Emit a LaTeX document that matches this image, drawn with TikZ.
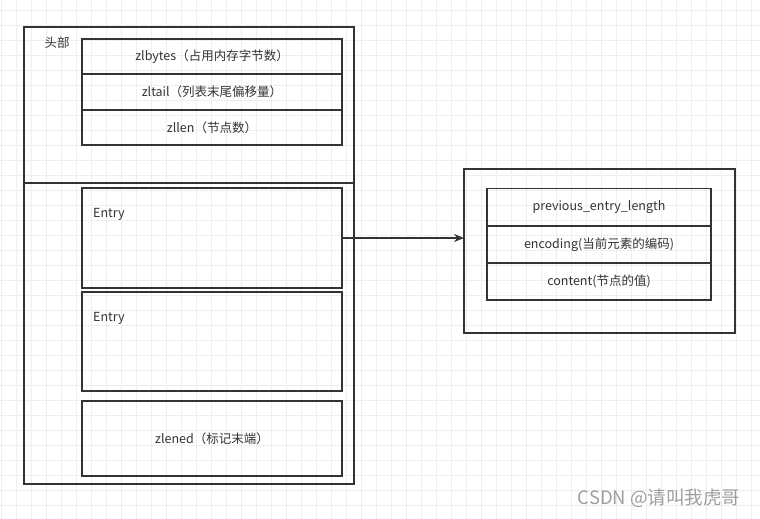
\documentclass[tikz,border=0pt]{standalone}
\usepackage{fontspec}
\usepackage{tikz}
\usetikzlibrary{arrows.meta}
\newfontfamily\cjk{Noto Sans CJK SC}
\definecolor{ink}{HTML}{333333}
\definecolor{gridgray}{HTML}{EEEEEE}
\tikzset{
  field/.style={draw=ink, line width=1.6pt, minimum width=260pt, inner sep=0pt, outer sep=0pt,
    text=ink, font=\cjk\fontsize{12.5}{15}\selectfont},
  frame/.style={draw=ink, line width=1.6pt, inner sep=0pt, outer sep=0pt},
  plain/.style={text=ink, inner sep=0pt, font=\cjk\fontsize{12.5}{15}\selectfont},
}
\begin{document}
\begin{tikzpicture}[x=1pt, y=-1pt]
	\useasboundingbox (0,0) rectangle (760,519);
	% grid
	\foreach \x in {1.7,16.7,...,760} \draw [gridgray, line width=0.8pt] (\x,0) -- (\x,519);
	\foreach \y in {10,25,...,519} \draw [gridgray, line width=0.8pt] (0,\y) -- (760,\y);
	% ziplist
	\node [frame, minimum width=330pt, minimum height=457pt] (zl) at (189,255.5) {};
	\draw [ink, line width=1.6pt] (zl.west |- 0,183) -- (zl.east |- 0,183);
	\node [plain] (head) at (57,43) {头部};
	\node [field, minimum height=35pt] (zlbytes) at (212,56.5) {zlbytes（占用内存字节数）};
	\node [field, minimum height=36pt] (zltail) at (212,92) {zltail（列表末尾偏移量）};
	\node [field, minimum height=35pt] (zllen) at (212,127.5) {zllen（节点数）};
	\node [field, minimum height=100pt] (entryA) at (212,238) {};
	\node [plain, anchor=west] (entryAtxt) at (93,214) {Entry};
	\node [field, minimum height=99pt] (entryB) at (212,341.5) {};
	\node [plain, anchor=west] (entryBtxt) at (93,318) {Entry};
	\node [field, minimum height=75pt] (zlend) at (212,438.5) {zlened（标记末端）};
	% entry
	\node [frame, minimum width=271pt, minimum height=164pt] (entry) at (599.5,251) {};
	\node [field, minimum width=224pt, minimum height=38pt] (prevlen) at (599,207.5) {previous\_entry\_length};
	\node [field, minimum width=224pt, minimum height=37pt] (encoding) at (599,244.5) {encoding(当前元素的编码)};
	\node [field, minimum width=224pt, minimum height=37pt] (content) at (599,281.5) {content(节点的值)};
	% arrows
	\draw [ink, line width=1.3pt, -{Stealth[length=10pt, width=8pt]}] (entryA.east) -- (entry.west |- entryA.east);
	% watermark
	\node [text=black!38, inner sep=0pt, font=\cjk\fontsize{18.5}{22}\selectfont] (mark) at (659,498) {CSDN @请叫我虎哥};
\end{tikzpicture}
\end{document}
